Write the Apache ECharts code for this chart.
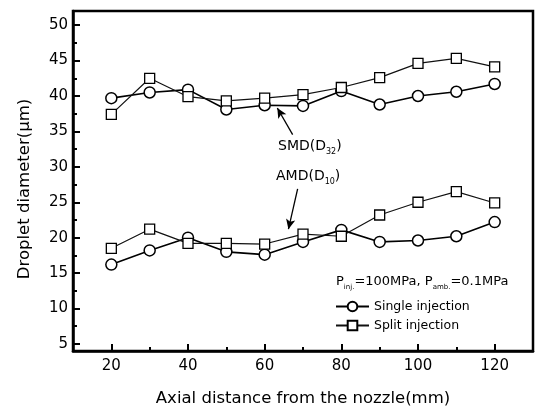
<!DOCTYPE html>
<html><head><meta charset="utf-8">
<script src="https://cdn.jsdelivr.net/npm/echarts@6/dist/echarts.min.js"></script>
<style>html,body{margin:0;padding:0;background:#fff}#c{width:540px;height:412px}</style>
</head><body><div id="c"></div>
<script>
const xValues = [20, 30, 40, 50, 60, 70, 80, 90, 100, 110, 120];
const smdSingle = [39.7, 40.5, 40.9, 38.1, 38.7, 38.6, 40.7, 38.8, 40.0, 40.6, 41.7];
const smdSplit  = [37.4, 42.5, 39.9, 39.3, 39.7, 40.2, 41.2, 42.6, 44.6, 45.3, 44.1];
const amdSingle = [16.2, 18.2, 20.0, 18.0, 17.6, 19.4, 21.1, 19.4, 19.6, 20.2, 22.2];
const amdSplit  = [18.5, 21.2, 19.2, 19.2, 19.1, 20.5, 20.2, 23.2, 25.0, 26.5, 24.9];
const yTicks = [5, 10, 15, 20, 25, 30, 35, 40, 45, 50];
const yMinorTicks = [7.5, 12.5, 17.5, 22.5, 27.5, 32.5, 37.5, 42.5, 47.5];
const xTicks = [20, 40, 60, 80, 100, 120];
const xMinorTicks = [30, 50, 70, 90, 110];

const F = 'DejaVu Sans';
const pair = a => xValues.map((x, i) => [x, a[i]]);
const chart = echarts.init(document.getElementById('c'));
const single = {symbol: 'circle', symbolSize: 11, lineStyle: {color: '#000', width: 1.6}, itemStyle: {color: '#fff', borderColor: '#000', borderWidth: 1.5}};
const split = {symbol: 'rect', symbolSize: 10, lineStyle: {color: '#111', width: 1.2}, itemStyle: {color: '#fff', borderColor: '#000', borderWidth: 1.3}};
const arrowLine = (a, b) => ({silent: true, symbol: ['none', 'arrow'], symbolSize: [7, 10], label: {show: false},
  lineStyle: {color: '#000', width: 1.3, type: 'solid'}, data: [[{coord: a}, {coord: b}]]});
const sub = {a: {fontFamily: F, fontSize: 14, fill: '#000', verticalAlign: 'bottom'}, s: {fontFamily: F, fontSize: 8, fill: '#000', verticalAlign: 'bottom', padding: [0,0,-3,0]}};
chart.setOption({
  animation: false,
  grid: {left: 73, right: 7, top: 11, bottom: 60, show: true, borderColor: '#000', borderWidth: 2.5},
  xAxis: [{
    type: 'value', min: 10, max: 130,
    name: 'Axial distance from the nozzle(mm)', nameLocation: 'middle', nameGap: 39,
    nameTextStyle: {fontFamily: F, fontSize: 16.5, color: '#000'},
    axisLine: {lineStyle: {color: '#000', width: 2.5}},
    axisTick: {inside: true, length: 7, lineStyle: {width: 2, color: '#000'}, customValues: xTicks},
    axisLabel: {fontFamily: F, fontSize: 15, color: '#000', margin: 8, customValues: xTicks},
    splitLine: {show: false}
  }, {
    type: 'value', min: 10, max: 130, position: 'bottom',
    axisLine: {show: false},
    axisTick: {inside: true, length: 4, lineStyle: {width: 2, color: '#000'}, customValues: xMinorTicks},
    axisLabel: {show: false}, splitLine: {show: false}
  }],
  yAxis: [{
    type: 'value', min: 4, max: 52,
    name: 'Droplet diameter(\u03bcm)', nameLocation: 'middle', nameGap: 40,
    nameTextStyle: {fontFamily: F, fontSize: 16.5, color: '#000', padding: [0, 16, 0, 0]},
    axisLine: {lineStyle: {color: '#000', width: 2.5}},
    axisTick: {inside: true, length: 7, lineStyle: {width: 2, color: '#000'}, customValues: yTicks},
    axisLabel: {fontFamily: F, fontSize: 15, color: '#000', margin: 5, customValues: yTicks},
    splitLine: {show: false}
  }, {
    type: 'value', min: 4, max: 52, position: 'left',
    axisLine: {show: false},
    axisTick: {inside: true, length: 4, lineStyle: {width: 2, color: '#000'}, customValues: yMinorTicks},
    axisLabel: {show: false}, splitLine: {show: false}
  }],
  legend: {
    orient: 'vertical', left: 335, top: 300, padding: 0, itemGap: 6, itemWidth: 33, itemHeight: 12,
    textStyle: {fontFamily: F, fontSize: 12.5, color: '#000'},
    data: ['Single injection', 'Split injection']
  },
  graphic: [
    {type: 'text', left: 336, top: 275, style: {
      text: '{a|P}{s|inj.}{a|=100MPa, P}{s|amb.}{a|=0.1MPa}',
      rich: {a: {fontFamily: F, fontSize: 13, fill: '#000', verticalAlign: 'bottom'}, s: {fontFamily: F, fontSize: 7, fill: '#000', verticalAlign: 'bottom', padding: [0,0,-3,0]}}
    }},
    {type: 'text', left: 278, top: 139, style: {text: '{a|SMD(D}{s|32}{a|)}', rich: sub}},
    {type: 'text', left: 276, top: 169, style: {text: '{a|AMD(D}{s|10}{a|)}', rich: sub}}
  ],
  series: [
    Object.assign({name: 'Single injection', type: 'line', data: pair(smdSingle),
      markLine: arrowLine([67.3, 34.55], [63.3, 38.3])}, single),
    Object.assign({name: 'Split injection', type: 'line', data: pair(smdSplit)}, split),
    Object.assign({name: 'Single injection', type: 'line', data: pair(amdSingle),
      markLine: arrowLine([68.6, 26.9], [66.2, 21.2])}, single),
    Object.assign({name: 'Split injection', type: 'line', data: pair(amdSplit)}, split)
  ]
});
</script></body></html>
